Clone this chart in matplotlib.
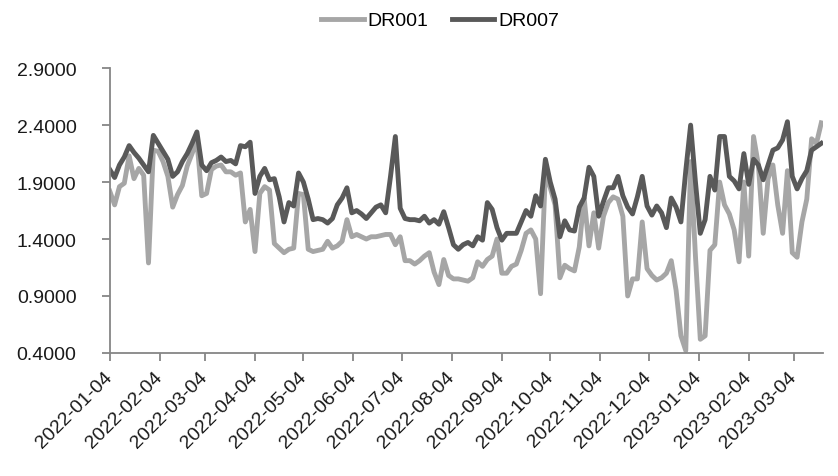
import numpy as np
import pandas as pd
import matplotlib
matplotlib.use("Agg")
import matplotlib.pyplot as plt
import matplotlib.dates as mdates
from matplotlib.ticker import FormatStrFormatter

plt.rcParams['font.family'] = ['Liberation Sans', 'DejaVu Sans']

# sampled every 3 calendar days from 2022-01-04
dates = pd.date_range('2022-01-04', periods=148, freq='3D')

dr007 = [
    2.01, 1.94, 2.05, 2.12, 2.22, 2.16, 2.11, 2.05, 1.99, 2.31,
    2.24, 2.17, 2.10, 1.95, 1.99, 2.08, 2.15, 2.24, 2.34, 2.05,
    2.00, 2.07, 2.09, 2.12, 2.08, 2.09, 2.06, 2.22, 2.21, 2.25,
    1.80, 1.95, 2.02, 1.92, 1.93, 1.77, 1.55, 1.72, 1.69, 1.98,
    1.90, 1.75, 1.57, 1.58, 1.57, 1.54, 1.58, 1.70, 1.76, 1.85,
    1.63, 1.65, 1.62, 1.58, 1.63, 1.68, 1.70, 1.63, 1.95, 2.30,
    1.67, 1.58, 1.57, 1.57, 1.56, 1.60, 1.54, 1.57, 1.53, 1.64,
    1.50, 1.35, 1.31, 1.35, 1.37, 1.34, 1.42, 1.39, 1.72, 1.66,
    1.50, 1.39, 1.45, 1.45, 1.45, 1.55, 1.65, 1.60, 1.78, 1.69,
    2.10, 1.90, 1.75, 1.42, 1.56, 1.48, 1.47, 1.68, 1.76, 2.03,
    1.95, 1.60, 1.73, 1.85, 1.85, 1.95, 1.78, 1.68, 1.62, 1.77,
    1.95, 1.69, 1.61, 1.69, 1.63, 1.50, 1.76, 1.68, 1.55, 2.00,
    2.40, 1.90, 1.45, 1.57, 1.95, 1.83, 2.30, 2.30, 1.95, 1.91,
    1.84, 2.15, 1.88, 2.10, 2.05, 1.92, 2.05, 2.18, 2.20, 2.27,
    2.43, 1.95, 1.84, 1.93, 2.00, 2.18, 2.21, 2.24,
]

dr001 = [
    1.82, 1.70, 1.86, 1.89, 2.13, 1.93, 2.02, 1.96, 1.19, 2.18,
    2.17, 2.08, 1.95, 1.68, 1.79, 1.87, 2.04, 2.15, 2.26, 1.78,
    1.80, 2.01, 2.04, 2.05, 1.99, 1.99, 1.96, 1.98, 1.55, 1.66,
    1.29, 1.80, 1.86, 1.83, 1.36, 1.32, 1.28, 1.31, 1.32, 1.80,
    1.79, 1.31, 1.29, 1.30, 1.31, 1.38, 1.32, 1.34, 1.38, 1.57,
    1.42, 1.44, 1.42, 1.40, 1.42, 1.42, 1.43, 1.44, 1.44, 1.35,
    1.42, 1.21, 1.21, 1.18, 1.21, 1.25, 1.28, 1.11, 1.00, 1.22,
    1.08, 1.05, 1.05, 1.04, 1.03, 1.06, 1.20, 1.16, 1.22, 1.25,
    1.40, 1.10, 1.10, 1.16, 1.18, 1.30, 1.45, 1.48, 1.40, 0.92,
    1.98, 1.85, 1.70, 1.06, 1.17, 1.14, 1.12, 1.33, 1.76, 1.34,
    1.63, 1.32, 1.60, 1.72, 1.77, 1.75, 1.60, 0.90, 1.05, 1.05,
    1.55, 1.14, 1.08, 1.04, 1.06, 1.10, 1.21, 0.95, 0.55, 0.42,
    2.08, 1.25, 0.52, 0.55, 1.30, 1.35, 1.90, 1.70, 1.62, 1.48,
    1.20, 1.90, 1.25, 2.30, 2.05, 1.45, 1.93, 2.05, 1.70, 1.45,
    2.00, 1.28, 1.24, 1.55, 1.75, 2.28, 2.24, 2.42,
]

tick_dates = pd.date_range('2022-01-01', '2023-03-01', freq='MS') + pd.Timedelta(days=3)
y_ticks = [0.4, 0.9, 1.4, 1.9, 2.4, 2.9]

fig = plt.figure(figsize=(8.38, 4.77), dpi=100)
ax = fig.add_axes([0.131, 0.258, 0.851, 0.597])

ax.plot(dates, dr001, color='#a6a6a6', lw=3.5, label='DR001', solid_joinstyle='round')
ax.plot(dates, dr007, color='#595959', lw=3.5, label='DR007', solid_joinstyle='round')

ax.set_ylim(0.4, 2.9)
ax.set_yticks(y_ticks)
ax.yaxis.set_major_formatter(FormatStrFormatter('%.4f'))
ax.set_xlim(dates[0], dates[0] + pd.Timedelta(days=442))
ax.set_xticks(tick_dates)
ax.xaxis.set_major_formatter(mdates.DateFormatter('%Y-%m-%d'))

for s in ['top', 'right']:
    ax.spines[s].set_visible(False)
for s in ['left', 'bottom']:
    ax.spines[s].set_color('#868686')
    ax.spines[s].set_linewidth(1.3)

ax.tick_params(axis='both', colors='#868686', length=6, width=1.3, labelcolor='#1a1a1a', labelsize=14)
ax.tick_params(axis='y', pad=18)
plt.setp(ax.get_xticklabels(), rotation=45, ha='right', va='center', rotation_mode='anchor', fontsize=14)
ax.tick_params(axis='x', pad=9)

fig.legend(loc='upper center', bbox_to_anchor=(0.525, 1.01), ncol=2, frameon=False,
           fontsize=14, handlelength=2.2, handletextpad=0.2, columnspacing=1.2)

fig.savefig('out.png', dpi=100)
